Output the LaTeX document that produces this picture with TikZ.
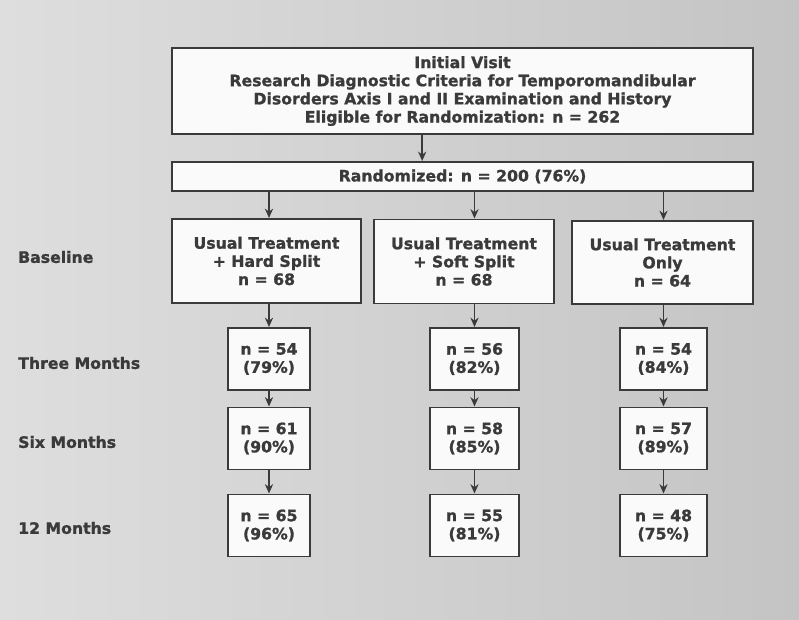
\documentclass[tikz,border=0pt]{standalone}
\usepackage{fontspec}
\setmainfont[BoldFeatures={FakeBold=1.2}]{DejaVu Sans}
\usepackage{tikz}
\usetikzlibrary{arrows.meta,positioning,calc}

\definecolor{bglight}{RGB}{222,222,222}
\definecolor{bgdark}{RGB}{196,196,196}
\definecolor{ink}{RGB}{58,58,58}
\definecolor{boxfill}{RGB}{250,250,250}

\begin{document}
\begin{tikzpicture}[x=0.03cm,y=-0.03cm,
    box/.style={draw=ink,line width=1.7pt,fill=boxfill,text=ink,align=center,
        inner sep=0pt,font=\bfseries\fontsize{13.4}{15.5}\selectfont},
    small/.style={box,minimum height=1.86cm},
    rowlabel/.style={anchor=west,inner sep=0pt,text=ink,font=\bfseries\fontsize{13.4}{15.5}\selectfont},
    arr/.style={-{Stealth[length=8pt,width=7pt]},draw=ink,line width=1.2pt}]

    % Background
    \shade[left color=bglight,right color=bgdark] (0,0) rectangle (799,620);
    \useasboundingbox (0,0) rectangle (799,620);

    % Screening
    \node[box,minimum width=17.43cm,minimum height=2.58cm] (visit) at (462.5,91)
        {Initial Visit\\Research Diagnostic Criteria for Temporomandibular\\
         Disorders Axis I and II Examination and History\\
         Eligible for Randomization: n = 262};
    \node[box,minimum width=17.43cm,minimum height=0.87cm] (rand) at (462.5,176.5)
        {Randomized: n = 200 (76\%)};

    % Baseline groups
    \node[box,minimum width=5.67cm,minimum height=2.52cm] (hard) at (266.5,261)
        {Usual Treatment\\+ Hard Split\\n = 68};
    \node[box,minimum width=5.4cm,minimum height=2.52cm] (soft) at (464,261.5)
        {Usual Treatment\\+ Soft Split\\n = 68};
    \node[box,minimum width=5.43cm,minimum height=2.49cm] (usual) at (662.5,262.5)
        {Usual Treatment\\Only\\n = 64};

    % Follow-up, hard split
    \node[small,minimum width=2.46cm] (hardA) at (269,359) {n = 54\\(79\%)};
    \node[small,minimum width=2.46cm] (hardB) at (269,438.5) {n = 61\\(90\%)};
    \node[small,minimum width=2.46cm] (hardC) at (269,525.5) {n = 65\\(96\%)};

    % Follow-up, soft split
    \node[small,minimum width=2.67cm] (softA) at (474.5,359) {n = 56\\(82\%)};
    \node[small,minimum width=2.67cm] (softB) at (474.5,438.5) {n = 58\\(85\%)};
    \node[small,minimum width=2.67cm] (softC) at (474.5,525.5) {n = 55\\(81\%)};

    % Follow-up, usual treatment only
    \node[small,minimum width=2.61cm] (usualA) at (663.5,359) {n = 54\\(84\%)};
    \node[small,minimum width=2.61cm] (usualB) at (663.5,438.5) {n = 57\\(89\%)};
    \node[small,minimum width=2.61cm] (usualC) at (663.5,525.5) {n = 48\\(75\%)};

    % Row labels
    \node[rowlabel] (lbase) at (18,257) {Baseline};
    \node[rowlabel] (lthree) at (18,363) {Three Months};
    \node[rowlabel] (lsix) at (18,442) {Six Months};
    \node[rowlabel] (ltwelve) at (18,528) {12 Months};

    % Arrows
    \draw[arr] ([xshift=-1.21cm]visit.south) -- ([xshift=-1.21cm]visit.south |- rand.north);
    \draw[arr] (rand.south -| hardA.north) -- (hardA.north |- hard.north);
    \draw[arr] (rand.south -| softA.north) -- (softA.north |- soft.north);
    \draw[arr] (rand.south -| usualA.north) -- (usualA.north |- usual.north);

    \draw[arr] (hardA.north |- hard.south) -- (hardA.north);
    \draw[arr] (softA.north |- soft.south) -- (softA.north);
    \draw[arr] (usualA.north |- usual.south) -- (usualA.north);

    \draw[arr] (hardA) -- (hardB);
    \draw[arr] (hardB) -- (hardC);
    \draw[arr] (softA) -- (softB);
    \draw[arr] (softB) -- (softC);
    \draw[arr] (usualA) -- (usualB);
    \draw[arr] (usualB) -- (usualC);
\end{tikzpicture}
\end{document}
